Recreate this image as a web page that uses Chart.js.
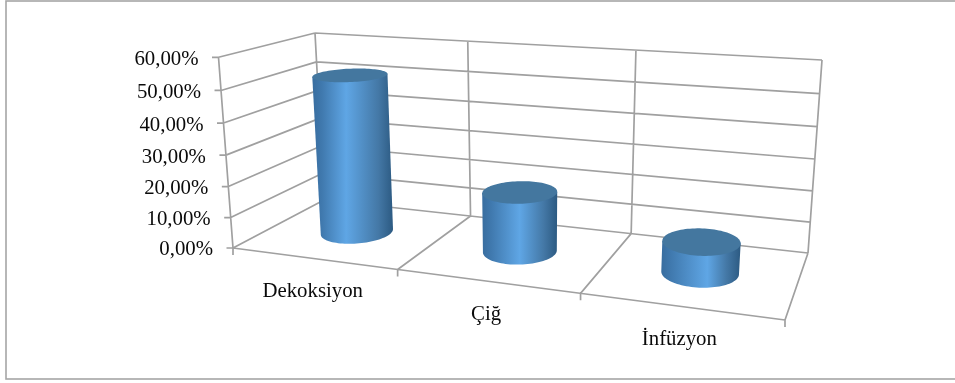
<!DOCTYPE html>
<html>
<head>
<meta charset="utf-8">
<style>
html,body{margin:0;padding:0;background:#fff;overflow:hidden}
canvas{display:block}
</style>
<script src="https://cdn.jsdelivr.net/npm/chart.js@4/dist/chart.umd.min.js"></script>
</head>
<body>
<canvas id="c" width="955" height="383"></canvas>
<script>
// Chart content
const categories = ['Dekoksiyon', 'Çiğ', 'İnfüzyon'];
const shares = [51.7, 19, 9.5];
const tickLabels = ['0,00%', '10,00%', '20,00%', '30,00%', '40,00%', '50,00%', '60,00%'];

// Box corners on screen: [x, y] keyed front/back, left/right, bottom/top
const box = {
  flb: [233, 248], flt: [218.5, 57.3],
  blb: [324, 200], blt: [315, 33],
  brb: [808, 253], brt: [822, 60],
  frb: [785, 320], frt: [800, 93]
};
const corners = [
  [0, 0, 0, box.flb], [1, 0, 0, box.frb], [0, 0, 1, box.blb], [1, 0, 1, box.brb],
  [0, 1, 0, box.flt], [1, 1, 0, box.frt], [0, 1, 1, box.blt], [1, 1, 1, box.brt]
];
// Homogeneous depth term of the camera
const depthAt = (u, v, d) => 1 - 0.15 * u - 0.05 * v + 0.14 * d;

// u: along the categories, v: up the value axis, d: from front to back
function project(u, v, d) {
  let X = 0, Y = 0, W = 0;
  for (const [cu, cv, cd, p] of corners) {
    const k = (cu ? u : 1 - u) * (cv ? v : 1 - v) * (cd ? d : 1 - d);
    const w = depthAt(cu, cv, cd);
    X += k * p[0] * w;
    Y += k * p[1] * w;
    W += k * w;
  }
  return [X / W, Y / W];
}

const FONT = '20.8px "Liberation Serif", "Times New Roman", serif';
const LINE = '#a0a0a0';
const DEPTH_RADIUS = 0.225;

function seg(ctx, a, b) {
  ctx.moveTo(a[0], a[1]);
  ctx.lineTo(b[0], b[1]);
}

function drawCylinder(ctx, chart, bar) {
  const area = chart.chartArea;
  const u = (bar.x - area.left) / area.width;
  const ru = (bar.width / 2) / area.width;
  const vTop = (area.bottom - bar.y) / area.height;
  const vBase = (area.bottom - bar.base) / area.height;
  const N = 96;
  const ring = v => {
    const pts = [];
    for (let i = 0; i < N; i++) {
      const t = i / N * Math.PI * 2;
      pts.push(project(u + ru * Math.cos(t), v, 0.5 - DEPTH_RADIUS * Math.sin(t)));
    }
    return pts;
  };
  const top = ring(vTop), bottom = ring(vBase);
  const extreme = (pts, sign) => pts.reduce((best, p, i) => sign * p[0] > sign * pts[best][0] ? i : best, 0);

  const rT = extreme(top, 1), lT = extreme(top, -1);
  const rB = extreme(bottom, 1), lB = extreme(bottom, -1);

  const left = Math.min(top[lT][0], bottom[lB][0]);
  const right = Math.max(top[rT][0], bottom[rB][0]);
  const peak = 0.38 + 0.24 * u;
  const g = ctx.createLinearGradient(left, 0, right, 0);
  g.addColorStop(0, '#386d9f');
  g.addColorStop(0.12, '#4079ae');
  g.addColorStop(peak, '#5fa6e5');
  g.addColorStop(0.82, '#4478a6');
  g.addColorStop(1, '#2c5a82');

  ctx.beginPath();
  ctx.moveTo(top[rT][0], top[rT][1]);
  ctx.lineTo(bottom[rB][0], bottom[rB][1]);
  for (let i = rB; i !== lB; i = (i + 1) % N) ctx.lineTo(bottom[i][0], bottom[i][1]);
  ctx.lineTo(bottom[lB][0], bottom[lB][1]);
  ctx.lineTo(top[lT][0], top[lT][1]);
  ctx.closePath();
  ctx.fillStyle = g;
  ctx.fill();

  ctx.beginPath();
  top.forEach((p, i) => i ? ctx.lineTo(p[0], p[1]) : ctx.moveTo(p[0], p[1]));
  ctx.closePath();
  ctx.fillStyle = '#44779f';
  ctx.fill();
}

// Bar layout from the library, painted as upright cylinders
class CylinderController extends Chart.BarController {
  draw() {
    const { ctx } = this.chart;
    this.getMeta().data.forEach(bar => drawCylinder(ctx, this.chart, bar));
  }
}
CylinderController.id = 'cylinder';
CylinderController.defaults = Chart.BarController.defaults;
CylinderController.overrides = Chart.BarController.overrides;
Chart.register(CylinderController);

// Outer frame, walls, floor, gridlines and axis labels
const wallsPlugin = {
  id: 'walls',
  beforeDatasetsDraw(chart) {
    const { ctx, scales: { x, y }, chartArea: area } = chart;
    ctx.save();
    ctx.strokeStyle = '#a6a6a6';
    ctx.lineWidth = 1.6;
    ctx.strokeRect(6, 1, chart.width + 10, 378);

    ctx.strokeStyle = LINE;
    ctx.lineWidth = 1.7;
    ctx.beginPath();
    y.ticks.forEach(t => {
      const v = (area.bottom - y.getPixelForValue(t.value)) / area.height;
      const f = project(0, v, 0);
      seg(ctx, [f[0] - 6.5, f[1]], f);
      seg(ctx, f, project(0, v, 1));
      seg(ctx, project(0, v, 1), project(1, v, 1));
    });
    seg(ctx, project(0, 0, 0), project(0, 1, 0));
    const edges = [0];
    categories.forEach((_, i) => edges.push((x.getPixelForValue(i) - area.left) / area.width * 2 - edges[i]));
    edges.forEach(u => {
      seg(ctx, project(u, 0, 1), project(u, 1, 1));
      const f = project(u, 0, 0);
      seg(ctx, f, project(u, 0, 1));
      seg(ctx, f, [f[0], f[1] + 7]);
    });
    seg(ctx, project(0, 0, 0), project(1, 0, 0));
    ctx.stroke();
    ctx.restore();
  },
  afterDatasetsDraw(chart) {
    const { ctx, scales: { x, y }, chartArea: area } = chart;
    ctx.save();
    ctx.font = FONT;
    ctx.fillStyle = '#0a0a0a';
    ctx.textBaseline = 'middle';
    ctx.textAlign = 'right';
    y.ticks.forEach(t => {
      const v = (area.bottom - y.getPixelForValue(t.value)) / area.height;
      const f = project(0, v, 0);
      ctx.fillText(t.label, f[0] - 20, f[1] + 2);
    });
    ctx.textAlign = 'center';
    x.ticks.forEach((t, i) => {
      const u = (x.getPixelForValue(i) - area.left) / area.width;
      const f = project(u, 0, 0);
      ctx.fillText(x.getLabelForValue(t.value), f[0] - 0.5, f[1] + 33);
    });
    ctx.restore();
  }
};

new Chart(document.getElementById('c'), {
  type: 'cylinder',
  data: {
    labels: categories,
    datasets: [{ data: shares, barPercentage: 0.4, categoryPercentage: 1, backgroundColor: '#5b9bd5' }]
  },
  plugins: [wallsPlugin],
  options: {
    responsive: false,
    animation: false,
    layout: { padding: 0 },
    plugins: { legend: { display: false }, tooltip: { enabled: false } },
    scales: {
      x: { display: false },
      y: {
        display: false,
        min: 0,
        max: 60,
        ticks: { stepSize: 10, callback: (v, i) => tickLabels[i] }
      }
    }
  }
});
</script>
</body>
</html>
